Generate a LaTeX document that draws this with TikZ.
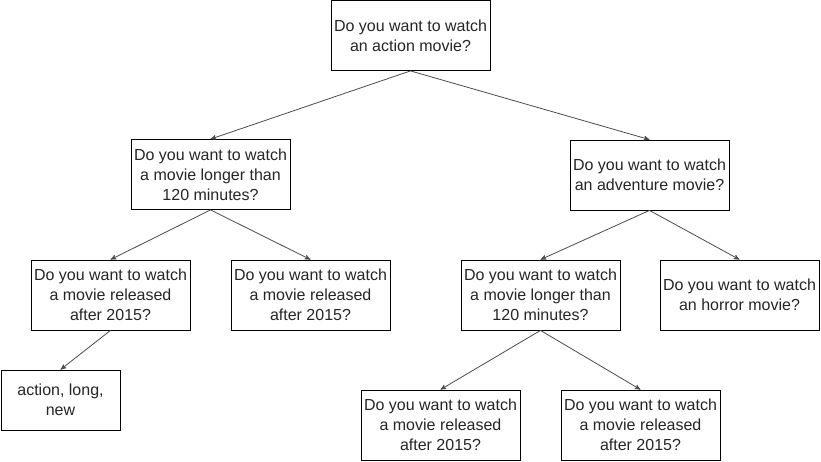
\documentclass[tikz,border=0pt]{standalone}
\usepackage{fontspec}
\setmainfont{Liberation Sans}
\usetikzlibrary{arrows}

\begin{document}
\begin{tikzpicture}[x=0.75pt,y=-0.75pt,->,>=stealth',shorten >=0pt,
  every edge/.style={draw=black!70,semithick,arrows={-stealth'[scale=1.3]}},
  main node/.style={rectangle,draw,semithick,fill=white,align=center,minimum width=119.25pt,
    minimum height=52.5pt,inner sep=1pt,font=\fontsize{12}{15}\selectfont,text=black!85}]
  \useasboundingbox (0,0) rectangle (821,461);
  \node[main node] (Q0) at (410.5,35.5) {Do you want to watch\\an action movie?};
  \node[main node] (Q1) at (210.5,174.5) {Do you want to watch\\a movie longer than\\120 minutes?};
  \node[main node] (Q2) at (649.5,175) {Do you want to watch\\an adventure movie?};
  \node[main node] (Q3) at (110.5,295) {Do you want to watch\\a movie released\\after 2015?};
  \node[main node] (Q4) at (310.5,295) {Do you want to watch\\a movie released\\after 2015?};
  \node[main node] (Q5) at (540.5,295) {Do you want to watch\\a movie longer than\\120 minutes?};
  \node[main node] (Q6) at (739.5,295) {Do you want to watch\\an horror movie?};
  \node[main node, minimum width=89.25pt, minimum height=45pt] (A1) at (60.5,400) {action, long,\\new};
  \node[main node] (Q7) at (440.5,425) {Do you want to watch\\a movie released\\after 2015?};
  \node[main node] (Q8) at (640.5,425) {Do you want to watch\\a movie released\\after 2015?};
  \path
     (Q0.south) edge (Q1.north)
     (Q0.south) edge (Q2.north)
     (Q1.south) edge (Q3.north)
     (Q1.south) edge (Q4.north)
     (Q2.south) edge (Q5.north)
     (Q2.south) edge (Q6.north)
     (Q3.south) edge (A1.north)
     (Q5.south) edge (Q7.north)
     (Q5.south) edge (Q8.north);
\end{tikzpicture}
\end{document}
